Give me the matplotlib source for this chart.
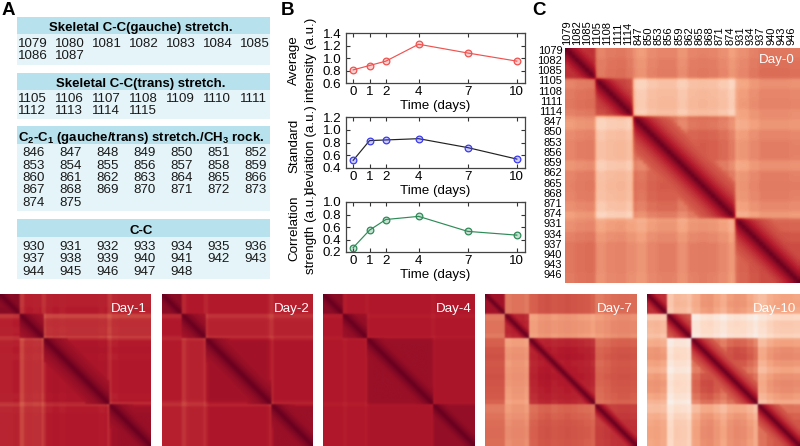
import numpy as np
import matplotlib
matplotlib.use("Agg")
import matplotlib.pyplot as plt
from matplotlib.patches import Rectangle

plt.rcParams['font.family'] = ['Liberation Sans', 'DejaVu Sans']
plt.rcParams['mathtext.fontset'] = 'custom'
plt.rcParams['mathtext.bf'] = 'Liberation Sans:bold'
plt.rcParams['mathtext.rm'] = 'Liberation Sans'
plt.rcParams['mathtext.default'] = 'bf'

# panel A
gauche = list(range(1079, 1088))
trans = list(range(1105, 1116))
rock = list(range(846, 876))
cc = list(range(930, 949))
titles = ["Skeletal C-C(gauche) stretch.", "Skeletal C-C(trans) stretch.",
          r"C$_2$-C$_1$ (gauche/trans) stretch./CH$_3$ rock.", "C-C"]

# panel B
days = [0, 1, 2, 4, 7, 10]
avg_int = [0.81, 0.88, 0.95, 1.22, 1.08, 0.95]
std_dev = [0.52, 0.83, 0.84, 0.86, 0.72, 0.54]
corr_str = [0.27, 0.55, 0.72, 0.77, 0.53, 0.47]

# panel C, correlation between groups (order: gauche, trans, rock, cc)
day0 = [[.70, .52, .47, .50], [.52, .70, .30, .46], [.47, .30, .56, .46], [.50, .46, .46, .60]]
day1 = [[.90, .78, .78, .76], [.78, .86, .74, .74], [.78, .74, .82, .80], [.76, .74, .80, .86]]
day2 = [[.90, .80, .79, .78], [.80, .86, .77, .77], [.79, .77, .84, .81], [.78, .77, .81, .86]]
day4 = [[.90, .80, .80, .80], [.80, .88, .80, .80], [.80, .80, .86, .82], [.80, .80, .82, .88]]
day7 = [[.84, .55, .62, .55], [.55, .80, .45, .48], [.62, .45, .77, .60], [.55, .48, .60, .70]]
day10 = [[.76, .36, .42, .38], [.36, .76, .20, .26], [.42, .20, .60, .42], [.38, .26, .42, .58]]
day_names = ["Day-0", "Day-1", "Day-2", "Day-4", "Day-7", "Day-10"]

# correlation near the diagonal, by distance from it
near0 = [1.0, .93, .86, .80, .76, .72, .69, .66, .64, .62, .60]
near1 = [1.0, .97, .94, .92, .90, .88, .87, .86, .85, .84, .83]
near10 = [1.0, .93, .86, .80, .75, .71, .68, .65, .63, .61]

# lighter / darker bands, one value per tick label
band0 = [0, .02, .03, -.03, 0, .01, -.02, -.05, 0, .02, .02, -.03, .02, .03, .02, -.01, -.06, -.04, 0, .03, .03, .03, .02]
band1 = [0, 0, .01, -.01, 0, -.01, 0, -.01, 0, -.01, 0, 0, 0, 0, 0, -.01, 0, -.01, 0, 0, 0, 0, 0]
band2 = [0, 0, 0, -.01, 0, 0, 0, 0, 0, 0, 0, 0, 0, 0, 0, 0, -.01, 0, 0, 0, 0, 0, 0]
band4 = [0] * 23
band7 = [0, 0, 0, -.03, -.01, -.01, -.03, -.02, .01, .02, 0, .01, .02, .01, 0, -.01, -.03, -.03, -.01, .01, .02, .02, .01]
band10 = [-.01, 0, -.02, -.08, -.02, -.03, -.06, -.04, .02, .03, -.01, -.05, .01, .03, .02, -.02, -.07, -.06, -.01, .02, .03, .03, .02]

# thin pale lines at the group edges, cell numbers and strength per day
edge_cells = [9, 10, 19, 20, 49, 50]
edge_day = [0, -.06, -.04, -.015, 0, 0]

groups = [gauche, trans, rock, cc]
wavenumbers = gauche + trans + rock + cc
tick_labels = wavenumbers[::3]
owner = np.repeat(range(4), [len(g) for g in groups])


def build_matrix(blocks, near, band, edge):
    blocks = np.array(blocks)
    lines = np.repeat(band, 3).astype(float)
    lines[edge_cells] += edge
    m = blocks[owner][:, owner] + lines[:, None] + lines[None, :]
    for i in range(len(m)):
        for j in range(len(m)):
            d = abs(i - j)
            if owner[i] == owner[j] and d < len(near):
                m[i, j] = max(m[i, j], near[d])
    return m


fig = plt.figure(figsize=(8, 4.46), dpi=100)


def px_axes(x0, y0, x1, y1):
    return fig.add_axes([x0 / 800, 1 - y1 / 446, (x1 - x0) / 800, (y1 - y0) / 446])


bg = px_axes(0, 0, 800, 446)
bg.set_xlim(0, 800)
bg.set_ylim(446, 0)
bg.axis('off')

for letter, x, y in [("A", 2, 15), ("B", 281, 15), ("C", 532, 15)]:
    bg.text(x, y, letter, fontsize=13.5, fontweight='bold', va='baseline')

# table
head_y = [(17, 34), (73, 90), (126, 144), (219, 237)]
body_end = [65, 119, 211, 279]
first_row = [47, 101.5, 156.5, 250]
for k, g in enumerate(groups):
    top, bot = head_y[k]
    bg.add_patch(Rectangle((17, top), 253, bot - top, fc='#b7e1ec', ec='none'))
    bg.add_patch(Rectangle((17, bot), 253, body_end[k] - bot, fc='#e4f4f9', ec='none'))
    bg.text(141, bot - 3.5, titles[k], fontsize=9.5, fontweight='bold', ha='center', va='baseline')
    x0 = 18 if g[0] > 1000 else 22
    for n, val in enumerate(g):
        bg.text(x0 + 37 * (n % 7), first_row[k] + 12.3 * (n // 7), str(val), fontsize=9.6,
                va='baseline', color='#1a1a1a')

# line plots
boxes = [(33, 83), (117, 168), (202, 252)]
series = [avg_int, std_dev, corr_str]
line_cols = ['#ef5350', '#222222', '#2e8b57']
mark_cols = ['#ef5350', '#3a3af0', '#2e8b57']
ylims = [(0.6, 1.4), (0.4, 1.2), (0.2, 1.0)]
ylines = [("Average", "intensity (a.u.)"), ("Standard", "deviation (a.u.)"), ("Correlation", "strength (a.u.)")]
ymid = [(60, 60), (146, 150), (228, 232)]
for k in range(3):
    ax = px_axes(345.5, boxes[k][0], 525, boxes[k][1])
    ax.plot(days, series[k], color=line_cols[k], lw=0.85)
    ax.plot(days, series[k], ls='none', marker='o', ms=4.8, mfc=mark_cols[k] + '44', mec=mark_cols[k], mew=0.9)
    ax.set_xlim(-0.47, 10.5)
    ax.set_ylim(ylims[k])
    ax.set_xticks(days)
    ax.set_yticks(np.arange(ylims[k][0], ylims[k][1] + 0.01, 0.2))
    ax.yaxis.set_major_formatter('{x:.1f}')
    ax.tick_params(direction='in', top=True, right=True, length=3, width=0.8, labelsize=9.6, color='#333333')
    ax.tick_params(axis='y', pad=3)
    ax.tick_params(axis='x', pad=2.5)
    ax.set_xlabel("Time (days)", fontsize=9.6, labelpad=1)
    bg.text(294, ymid[k][0], ylines[k][0], fontsize=9.6, rotation=90, ha='center', va='center')
    bg.text(311, ymid[k][1], ylines[k][1], fontsize=9.6, rotation=90, ha='center', va='center')
    for s in ax.spines.values():
        s.set_color('#444444')
        s.set_linewidth(0.9)

# heatmaps
near_by_day = [near0, near1, near1, near1, near10, near10]
blocks_by_day = [day0, day1, day2, day4, day7, day10]
bands_by_day = [band0, band1, band2, band4, band7, band10]
places = [(565, 48, 800, 283), (0, 294, 151, 446), (162, 294, 313, 446),
          (323, 294, 475, 446), (485, 294, 636, 446), (647, 294, 800, 446)]
for k in range(6):
    ax = px_axes(*places[k])
    m = build_matrix(blocks_by_day[k], near_by_day[k], bands_by_day[k], edge_day[k])
    ax.imshow(m, cmap='RdBu_r', vmin=-1, vmax=1, aspect='auto', interpolation='gaussian')
    ax.text(0.975, 0.975 if k == 0 else 0.94, day_names[k], transform=ax.transAxes, color='white',
            fontsize=9.6, ha='right', va='top')
    for s in ax.spines.values():
        s.set_visible(False)
    if k == 0:
        pos = np.arange(0, len(wavenumbers), 3)
        ax.set_xticks(pos, tick_labels, rotation=90, fontsize=8)
        ax.set_yticks(pos, tick_labels, fontsize=8)
        ax.xaxis.tick_top()
        ax.tick_params(length=0, pad=2)
    else:
        ax.set_xticks([])
        ax.set_yticks([])

fig.savefig("out.png", dpi=100)
